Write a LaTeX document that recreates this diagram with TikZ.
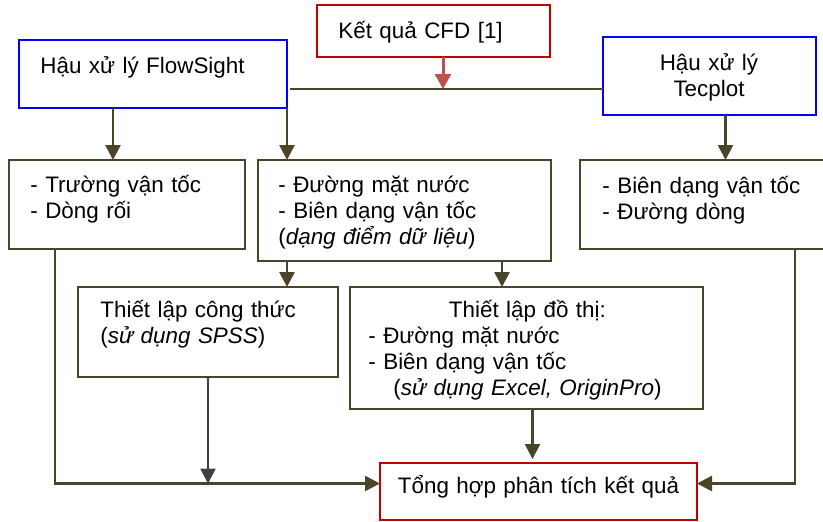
\documentclass[tikz,border=0pt]{standalone}
\usepackage{fontspec}
\setmainfont{Liberation Sans}
\usetikzlibrary{arrows.meta,calc}
\definecolor{olive}{RGB}{74,69,42}
\definecolor{boxred}{RGB}{192,0,0}
\definecolor{arrred}{RGB}{192,80,77}
\definecolor{arrgray}{RGB}{64,64,64}
\tikzset{
  blk/.style={draw=olive, line width=1pt, inner sep=0pt, outer sep=0pt, anchor=north west},
  bluebox/.style={blk, draw=blue, line width=1.3pt},
  redbox/.style={blk, draw=boxred, line width=1.1pt},
  txt/.style={inner sep=0pt, align=left, anchor=base west, font=\fontsize{11.2}{13}\selectfont},
  ln/.style={draw=olive, line width=1.3pt},
  arr/.style={ln, -{Triangle[width=7.5pt,length=7.5pt]}},
  grayarr/.style={arr, draw=arrgray, fill=arrgray},
  redarr/.style={arr, draw=arrred, fill=arrred, line width=1.5pt, -{Triangle[width=8pt,length=7.5pt]}}
}
\begin{document}
\begin{tikzpicture}[x=0.5pt,y=-0.5pt]
\useasboundingbox (0,0) rectangle (823,521);
\node[redbox, minimum width=116.5pt, minimum height=26pt] (cfd) at (317,5) {};
\node[bluebox, minimum width=134pt, minimum height=34pt] (flow) at (19,40) {};
\node[bluebox, minimum width=106.5pt, minimum height=39pt] (tec) at (603,37) {};
\node[blk, minimum width=118pt, minimum height=44.5pt] (vel) at (9,160) {};
\node[blk, minimum width=146.5pt, minimum height=50.5pt] (surf) at (258,160) {};
\node[blk, minimum width=135pt, minimum height=44.5pt] (prof) at (580,160) {};
\node[blk, minimum width=130pt, minimum height=45pt] (spss) at (78,287) {};
\node[blk, minimum width=176.5pt, minimum height=61pt] (plot) at (350,287) {};
\node[redbox, minimum width=158.5pt, minimum height=28.5pt] (sum) at (380,463) {};

\node[txt, text width=110pt] (cfdtxt) at (338,38) {Kết quả CFD [1]};
\node[txt, text width=120pt] (flowtxt) at (40,73) {Hậu xử lý FlowSight};
\node[txt, text width=100pt, align=center, anchor=base] (tectxt) at (709,70) {Hậu xử lý\\Tecplot};
\node[txt, text width=100pt] (veltxt) at (30,192) {- Trường vận tốc\\- Dòng rối};
\node[txt, text width=130pt] (surftxt) at (278,192) {- Đường mặt nước\\- Biên dạng vận tốc\\(\textit{dạng điểm dữ liệu})};
\node[txt, text width=110pt] (proftxt) at (602,193) {- Biên dạng vận tốc\\- Đường dòng};
\node[txt, text width=115pt] (spsstxt) at (100,317) {Thiết lập công thức\\(\textit{sử dụng SPSS})};
\node[txt, text width=159pt] (plottxt) at (368,317) {\makebox[\linewidth][c]{Thiết lập đồ thị:}\\- Đường mặt nước\\- Biên dạng vận tốc\\\hspace*{12.5pt}(\textit{sử dụng Excel, OriginPro})};
\node[txt, text width=150pt, align=center, anchor=base] (sumtxt) at (538.5,493) {Tổng hợp phân tích kết quả};

\coordinate (hub) at (443,89);
\coordinate (fl) at ([yshift=4pt]sum.west);
\coordinate (fr) at ([yshift=4pt]sum.east);
\draw[ln] ([xshift=1.5pt]flow.east |- hub) -- (tec.west |- hub);
\draw[redarr] (cfd.south -| hub) -- (hub);
\draw[arr] ([xshift=-20pt]flow.south) -- ([xshift=-20pt]flow.south |- vel.north);
\draw[arr] (flow.south east) -- (flow.south east |- surf.north);
\draw[arr] ([xshift=8pt]tec.south) -- ([xshift=8pt]tec.south |- prof.north);
\draw[arr] (flow.south east |- surf.south) -- (flow.south east |- spss.north);
\draw[arr] ([xshift=-24.5pt]surf.south east) -- ([xshift=-24.5pt]surf.south east |- plot.north);
\draw[arr] ([xshift=23pt]vel.south west) |- (fl);
\draw[grayarr] (spss.south) -- (spss.south |- fl);
\draw[arr, shorten >=2pt] ([xshift=3pt]plot.south) -- ([xshift=3pt]plot.south |- sum.north);
\draw[arr] ([xshift=107.5pt]prof.south west) |- (fr);
\end{tikzpicture}
\end{document}
